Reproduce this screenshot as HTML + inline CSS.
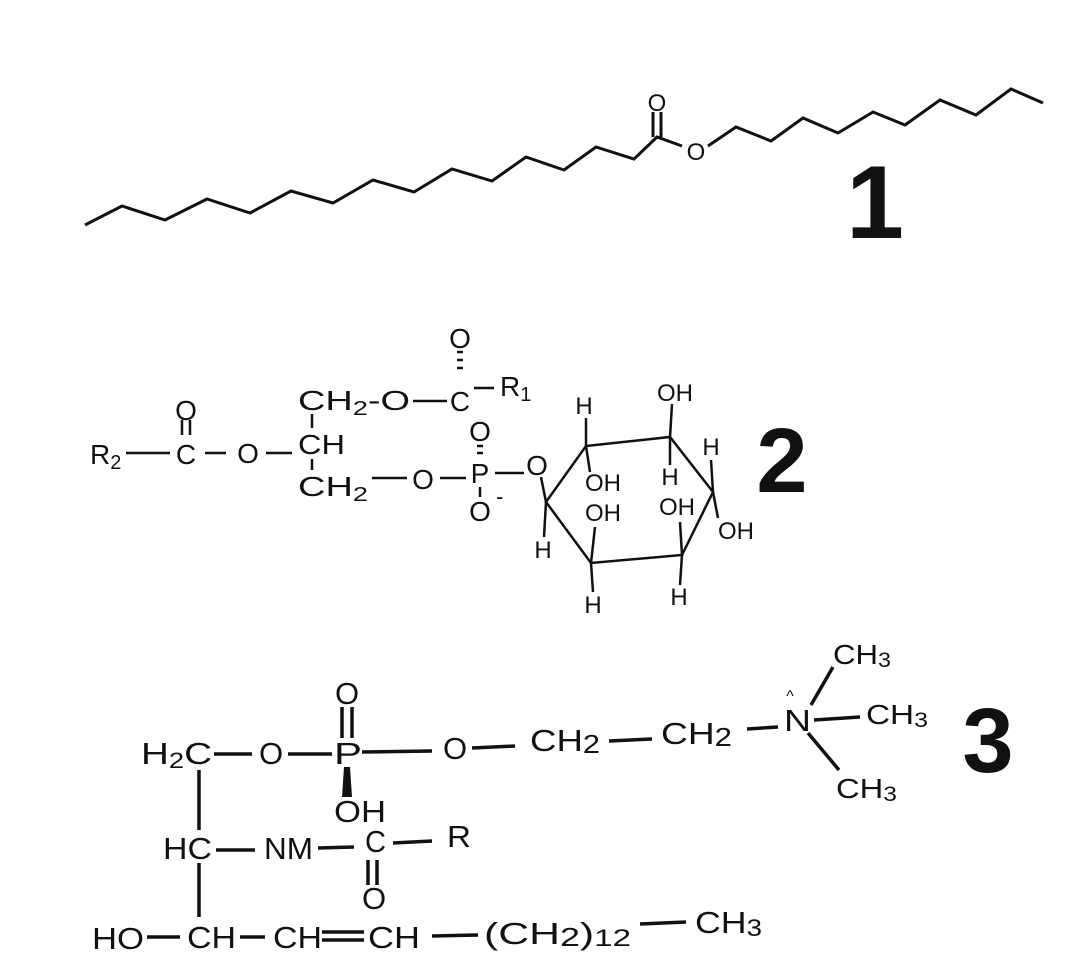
<!DOCTYPE html>
<html><head><meta charset="utf-8"><style>
html,body{margin:0;padding:0;background:#fff;}
svg{display:block}
text{font-family:"Liberation Sans",Arial,sans-serif;fill:#111;}
</style></head><body>
<svg width="1088" height="960" viewBox="0 0 1088 960" xmlns="http://www.w3.org/2000/svg">
<g stroke="#111" stroke-width="3" fill="none">
<polyline points="85,225 122,206 165,220 207,199 250,213 291,191 333,203 373,180 414,192 452,169 492,181 526,157 564,170 596,147 634,159 657,137 682,146"/>
<line x1="653" y1="137" x2="653" y2="112"/><line x1="661" y1="137" x2="661" y2="112"/>
<polyline points="708,146 736,127 771,141 803,118 838,133 873,112 905,125 940,100 976,115 1011,89 1043,103"/>
</g>
<text x="657" y="111" font-size="24" text-anchor="middle">O</text>
<text x="696" y="160" font-size="24" text-anchor="middle">O</text>
<text x="875" y="238" font-size="104" font-weight="bold" text-anchor="middle">1</text>

<!-- structure 2 -->
<g font-size="28">
<text x="90" y="464">R<tspan font-size="20" dy="5">2</tspan></text>
<text x="186" y="464" text-anchor="middle">C</text>
<text x="186" y="420" text-anchor="middle">O</text>
<text x="248" y="463" text-anchor="middle">O</text>
<text x="298" y="454" textLength="47" lengthAdjust="spacingAndGlyphs">CH</text>
<text x="298" y="410" textLength="112" lengthAdjust="spacingAndGlyphs">CH<tspan font-size="20" dy="5">2</tspan><tspan dy="-5">-O</tspan></text>
<text x="460" y="411" text-anchor="middle">C</text>
<text x="460" y="348" text-anchor="middle">O</text>
<text x="500" y="396">R<tspan font-size="20" dy="5">1</tspan></text>
<text x="298" y="496" textLength="70" lengthAdjust="spacingAndGlyphs">CH<tspan font-size="20" dy="5">2</tspan></text>
<text x="423" y="489" text-anchor="middle">O</text>
<text x="480" y="483" text-anchor="middle">P</text>
<text x="480" y="441" text-anchor="middle">O</text>
<text x="480" y="521" text-anchor="middle">O</text>
<text x="496" y="504" font-size="22">-</text>
<text x="537" y="475" text-anchor="middle">O</text>
</g>
<g font-size="24" text-anchor="middle">
<text x="584" y="414">H</text>
<text x="675" y="401">OH</text>
<text x="670" y="485">H</text>
<text x="603" y="491">OH</text>
<text x="711" y="455">H</text>
<text x="736" y="539">OH</text>
<text x="677" y="515">OH</text>
<text x="679" y="605">H</text>
<text x="603" y="521">OH</text>
<text x="593" y="613">H</text>
<text x="543" y="558">H</text>
</g>
<text x="782" y="492" font-size="92" font-weight="bold" text-anchor="middle">2</text>
<g stroke="#111" stroke-width="2.5" fill="none">
<line x1="205" y1="453" x2="226" y2="453"/><line x1="126" y1="453" x2="170" y2="453"/>
<line x1="266" y1="453" x2="292" y2="453"/>
<line x1="182" y1="420" x2="182" y2="435"/><line x1="190" y1="420" x2="190" y2="435"/>
<line x1="312" y1="414" x2="312" y2="428"/><line x1="312" y1="459" x2="312" y2="470"/>
<line x1="413" y1="401" x2="447" y2="401"/><line x1="474" y1="388" x2="494" y2="388"/>
<line x1="457" y1="352" x2="463" y2="352"/><line x1="457" y1="360" x2="463" y2="360"/><line x1="457" y1="368" x2="463" y2="368"/>
<line x1="372" y1="478" x2="407" y2="478"/><line x1="440" y1="478" x2="466" y2="478"/>
<line x1="495" y1="473" x2="524" y2="473"/>
<line x1="477" y1="446" x2="483" y2="446"/><line x1="477" y1="453" x2="483" y2="453"/>
<line x1="480" y1="487" x2="480" y2="497"/>
<polygon points="586,446 670,437 713,492 682,555 591,563 546,502"/>
<line x1="586" y1="446" x2="586" y2="418"/>
<line x1="670" y1="437" x2="672" y2="404"/>
<line x1="670" y1="437" x2="670" y2="465"/>
<line x1="586" y1="446" x2="590" y2="472"/>
<line x1="713" y1="492" x2="711" y2="460"/>
<line x1="713" y1="492" x2="718" y2="518"/>
<line x1="682" y1="555" x2="680" y2="522"/>
<line x1="682" y1="555" x2="680" y2="585"/>
<line x1="591" y1="563" x2="595" y2="527"/>
<line x1="591" y1="563" x2="593" y2="592"/>
<line x1="546" y1="502" x2="541" y2="477"/>
<line x1="546" y1="502" x2="544" y2="537"/>
</g>

<!-- structure 3 -->
<g font-size="31">
<text x="141" y="764" textLength="71" lengthAdjust="spacingAndGlyphs">H<tspan font-size="22" dy="4">2</tspan><tspan dy="-4">C</tspan></text>
<text x="271" y="764" text-anchor="middle">O</text>
<text x="334" y="764" textLength="28" lengthAdjust="spacingAndGlyphs">P</text>
<text x="347" y="704" text-anchor="middle">O</text>
<text x="334" y="822" textLength="52" lengthAdjust="spacingAndGlyphs">OH</text>
<text x="455" y="759" text-anchor="middle">O</text>
<text x="530" y="751" textLength="70" lengthAdjust="spacingAndGlyphs">CH<tspan font-size="26" dy="2">2</tspan></text>
<text x="661" y="744" textLength="71" lengthAdjust="spacingAndGlyphs">CH<tspan font-size="26" dy="2">2</tspan></text>
<text x="784" y="731" textLength="27" lengthAdjust="spacingAndGlyphs">N</text>
<text x="790" y="701" font-size="16" text-anchor="middle">^</text>
<text x="833" y="664" font-size="28" textLength="58" lengthAdjust="spacingAndGlyphs">CH<tspan font-size="21" dy="3">3</tspan></text>
<text x="866" y="724" font-size="28" textLength="62" lengthAdjust="spacingAndGlyphs">CH<tspan font-size="21" dy="3">3</tspan></text>
<text x="836" y="798" font-size="28" textLength="61" lengthAdjust="spacingAndGlyphs">CH<tspan font-size="21" dy="3">3</tspan></text>
<text x="163" y="859" textLength="49" lengthAdjust="spacingAndGlyphs">HC</text>
<text x="264" y="859" textLength="49" lengthAdjust="spacingAndGlyphs">NM</text>
<text x="365" y="852" textLength="21" lengthAdjust="spacingAndGlyphs">C</text>
<text x="447" y="847" textLength="24" lengthAdjust="spacingAndGlyphs">R</text>
<text x="374" y="909" text-anchor="middle">O</text>
<text x="92" y="949" textLength="52" lengthAdjust="spacingAndGlyphs">HO</text>
<text x="187" y="948" textLength="49" lengthAdjust="spacingAndGlyphs">CH</text>
<text x="273" y="948" textLength="49" lengthAdjust="spacingAndGlyphs">CH</text>
<text x="368" y="948" textLength="52" lengthAdjust="spacingAndGlyphs">CH</text>
<text x="484" y="944" textLength="147" lengthAdjust="spacingAndGlyphs">(CH<tspan font-size="26" dy="2">2</tspan><tspan dy="-2">)</tspan><tspan font-size="24" dy="2">12</tspan></text>
<text x="695" y="933" textLength="67" lengthAdjust="spacingAndGlyphs">CH<tspan font-size="24" dy="3">3</tspan></text>
</g>
<text x="988" y="772" font-size="92" font-weight="bold" text-anchor="middle">3</text>
<g stroke="#111" stroke-width="3.5" fill="none">
<line x1="214" y1="754" x2="252" y2="754"/><line x1="288" y1="754" x2="332" y2="754"/>
<line x1="362" y1="752" x2="432" y2="751"/><line x1="472" y1="748" x2="515" y2="746"/>
<line x1="609" y1="741" x2="652" y2="739"/><line x1="747" y1="729" x2="778" y2="727"/>
<line x1="342" y1="707" x2="342" y2="738"/><line x1="352" y1="707" x2="352" y2="738"/>
<line x1="811" y1="705" x2="833" y2="667"/><line x1="814" y1="720" x2="860" y2="717"/>
<line x1="808" y1="733" x2="839" y2="770"/>
<line x1="199" y1="770" x2="199" y2="830"/><line x1="199" y1="863" x2="199" y2="917"/>
<line x1="216" y1="850" x2="255" y2="850"/><line x1="318" y1="848" x2="354" y2="847"/>
<line x1="393" y1="843" x2="432" y2="841"/>
<line x1="368" y1="860" x2="368" y2="885"/><line x1="377" y1="860" x2="377" y2="885"/>
<line x1="147" y1="937" x2="180" y2="937"/><line x1="240" y1="937" x2="265" y2="937"/>
<line x1="322" y1="932" x2="364" y2="932"/><line x1="322" y1="940" x2="364" y2="940"/>
<line x1="432" y1="936" x2="478" y2="935"/><line x1="640" y1="924" x2="686" y2="922"/>
</g>
<polygon points="344,767 350,767 352,797 342,797" fill="#111"/>
</svg>
</body></html>
